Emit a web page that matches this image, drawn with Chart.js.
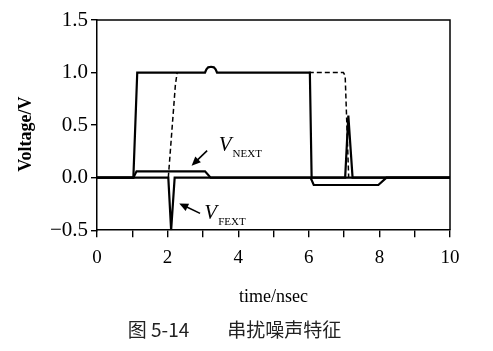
<!DOCTYPE html>
<html>
<head>
<meta charset="utf-8">
<title>串扰噪声特征</title>
<style>
  html, body { margin: 0; padding: 0; background: #fff; }
  canvas { display: block; }
</style>
</head>
<body>
<canvas id="myChart" width="493" height="351"></canvas>

<script src="https://cdn.jsdelivr.net/npm/chart.js"></script>
<script>
// aggressor at the near end (solid, with small reflection bump)
const timeAggr = [0, 1.03, 1.14, 3.06, 3.1, 3.15, 3.23, 3.31, 3.36, 3.4, 6.03, 6.08, 10];
const voltAggr = [0, 0, 1.0, 1.0, 1.03, 1.05, 1.055, 1.05, 1.03, 1.0, 1.0, 0, 0];

// aggressor at the far end (dashed), gap where it sits under the solid line
const timeFar = [2.02, 2.22, 2.27, 4.0, 6.0, 6.98, 7.03, 7.13];
const voltFar = [0, 0.88, 1.0, null, 1.0, 1.0, 0.97, 0];

// near-end crosstalk
const timeNext = [0, 1.03, 1.12, 3.06, 3.22, 6.05, 6.14, 7.97, 8.2, 10];
const voltNext = [0, 0, 0.06, 0.06, 0, 0, -0.07, -0.07, 0, 0];

// far-end crosstalk
const timeFext = [0, 2.02, 2.1, 2.2, 7.03, 7.12, 7.24, 10];
const voltFext = [0, 0, -0.5, 0, 0, 0.59, 0, 0];

const xTickValues = [0, 1, 2, 3, 4, 5, 6, 7, 8, 9, 10];
const xTickLabels = ['0', '', '2', '', '4', '', '6', '', '8', '', '10'];
const yTickValues = [-0.5, 0, 0.5, 1.0, 1.5];
const yTickLabels = ['\u22120.5', '0.0', '0.5', '1.0', '1.5'];

const xTitle = 'time/nsec';
const yTitle = 'Voltage/V';
const caption = '\u3000图 5-14\u3000\u3000串扰噪声特征';

// labels with arrows, in data units
const noteLabels = [
    { text: 'V', sub: 'NEXT', x: 3.45, y: 0.257 },
    { text: 'V', sub: 'FEXT', x: 3.04, y: -0.39 }
];
const noteArrows = [
    { x1: 3.12, y1: 0.257, x2: 2.68, y2: 0.114 },
    { x1: 2.92, y1: -0.34, x2: 2.33, y2: -0.245 }
];

function toPoints(xs, ys) {
    return xs.map((x, i) => ({ x: x, y: ys[i] }));
}

const notesPlugin = {
    id: 'notes',
    afterDatasetsDraw(chart) {
        const { ctx, scales: { x, y }, chartArea } = chart;
        ctx.save();

        // box round the plot
        ctx.strokeStyle = '#000';
        ctx.lineWidth = 1.5;
        ctx.beginPath();
        ctx.moveTo(chartArea.left, chartArea.top);
        ctx.lineTo(chartArea.right, chartArea.top);
        ctx.lineTo(chartArea.right, chartArea.bottom);
        ctx.stroke();

        noteArrows.forEach(a => {
            const x1 = x.getPixelForValue(a.x1), y1 = y.getPixelForValue(a.y1);
            const x2 = x.getPixelForValue(a.x2), y2 = y.getPixelForValue(a.y2);
            const ang = Math.atan2(y2 - y1, x2 - x1);
            const len = 9, half = 4;
            ctx.strokeStyle = '#000';
            ctx.fillStyle = '#000';
            ctx.lineWidth = 1.6;
            ctx.beginPath();
            ctx.moveTo(x1, y1);
            ctx.lineTo(x2 - Math.cos(ang) * len * 0.8, y2 - Math.sin(ang) * len * 0.8);
            ctx.stroke();
            ctx.beginPath();
            ctx.moveTo(x2, y2);
            ctx.lineTo(x2 - Math.cos(ang) * len - Math.sin(ang) * half, y2 - Math.sin(ang) * len + Math.cos(ang) * half);
            ctx.lineTo(x2 - Math.cos(ang) * len + Math.sin(ang) * half, y2 - Math.sin(ang) * len - Math.cos(ang) * half);
            ctx.closePath();
            ctx.fill();
        });

        noteLabels.forEach(n => {
            const px = x.getPixelForValue(n.x), py = y.getPixelForValue(n.y);
            ctx.fillStyle = '#000';
            ctx.textBaseline = 'alphabetic';
            ctx.textAlign = 'left';
            ctx.font = 'italic 21px "Liberation Serif", serif';
            ctx.fillText(n.text, px, py);
            const w = ctx.measureText(n.text).width;
            ctx.font = '11px "Liberation Serif", serif';
            ctx.fillText(n.sub, px + w + 1, py + 6);
        });

        ctx.restore();
    }
};

const lineBase = {
    showLine: true,
    fill: false,
    tension: 0,
    pointRadius: 0,
    borderColor: '#000',
    spanGaps: false
};

new Chart(document.getElementById('myChart'), {
    type: 'scatter',
    data: {
        datasets: [
            { ...lineBase, label: 'far end', data: toPoints(timeFar, voltFar), borderWidth: 1.5, borderDash: [5, 3] },
            { ...lineBase, label: 'near end', data: toPoints(timeAggr, voltAggr), borderWidth: 2.2 },
            { ...lineBase, label: 'NEXT', data: toPoints(timeNext, voltNext), borderWidth: 2.2 },
            { ...lineBase, label: 'FEXT', data: toPoints(timeFext, voltFext), borderWidth: 2.2 }
        ]
    },
    options: {
        responsive: false,
        animation: false,
        layout: { padding: { top: 20, right: 43, bottom: 0, left: 0 } },
        plugins: {
            legend: { display: false },
            tooltip: { enabled: false },
            title: {
                display: true,
                position: 'bottom',
                text: caption,
                color: '#222',
                font: { family: '"Noto Sans CJK SC"', size: 19, weight: 'normal' },
                padding: { top: 0, bottom: 10 }
            }
        },
        scales: {
            x: {
                type: 'linear',
                min: 0,
                max: 10,
                afterBuildTicks: axis => { axis.ticks = xTickValues.map(v => ({ value: v })); },
                afterFit: scale => { scale.height = 88; },
                ticks: {
                    autoSkip: false,
                    maxRotation: 0,
                    padding: 9,
                    color: '#000',
                    font: { family: '"Liberation Serif", serif', size: 19 },
                    callback: (v, i) => xTickLabels[i]
                },
                grid: { drawOnChartArea: false, drawTicks: true, tickLength: 7, color: '#000', lineWidth: 1.4 },
                border: { display: true, color: '#000', width: 1.5 },
                title: {
                    display: true,
                    text: xTitle,
                    color: '#000',
                    font: { family: '"Liberation Serif", serif', size: 18 },
                    padding: { top: 0, bottom: 10 }
                }
            },
            y: {
                type: 'linear',
                min: -0.5,
                max: 1.5,
                afterBuildTicks: axis => { axis.ticks = yTickValues.map(v => ({ value: v })); },
                afterFit: scale => { scale.width = 97; },
                ticks: {
                    autoSkip: false,
                    padding: 3,
                    color: '#000',
                    font: { family: '"Liberation Serif", serif', size: 21 },
                    callback: (v, i) => yTickLabels[i]
                },
                grid: { drawOnChartArea: false, drawTicks: true, tickLength: 6, color: '#000', lineWidth: 1.4 },
                border: { display: true, color: '#000', width: 1.5 },
                title: {
                    display: true,
                    text: yTitle + '    ',
                    color: '#000',
                    font: { family: '"Liberation Serif", serif', size: 18, weight: 'bold' },
                    padding: { top: 16, bottom: 0 }
                }
            }
        }
    },
    plugins: [notesPlugin]
});
</script>
</body>
</html>
